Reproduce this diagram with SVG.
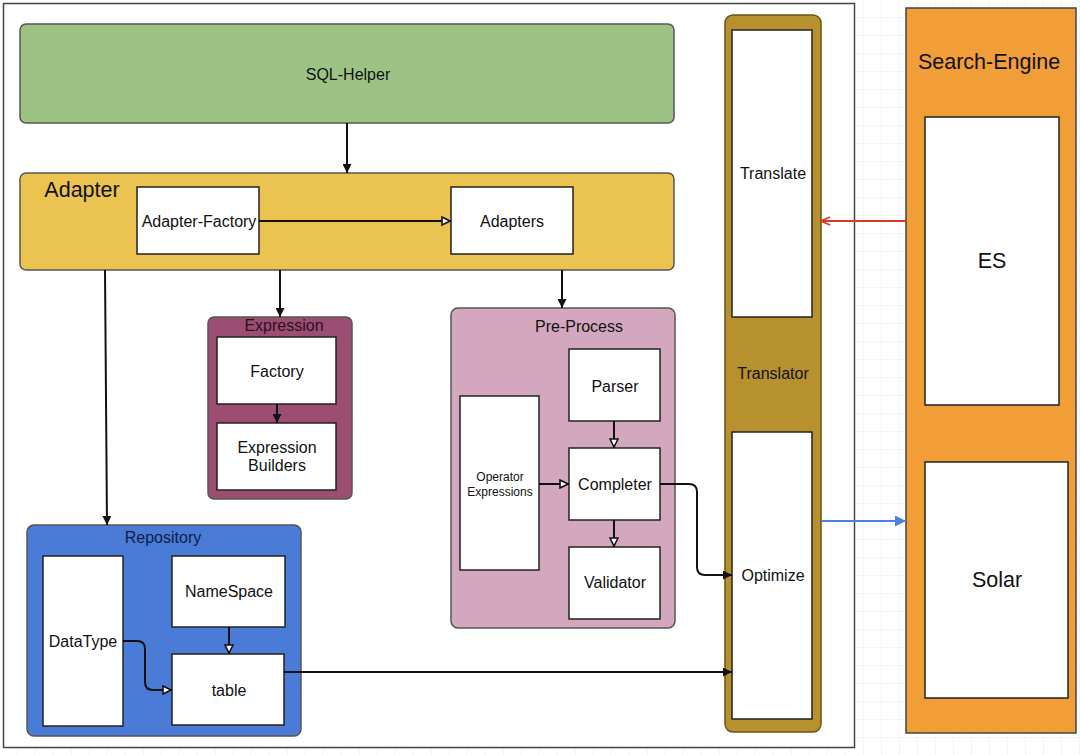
<svg xmlns="http://www.w3.org/2000/svg" width="1080" height="755" viewBox="0 0 1080 755">
<defs>
  <pattern id="grid" x="0" y="0" width="18" height="18" patternUnits="userSpaceOnUse">
    <path d="M18 0 V18 M0 18 H18" fill="none" stroke="#e6eaf4" stroke-width="1"/>
  </pattern>
  <marker id="fill" viewBox="0 0 10 10" refX="10" refY="5" markerWidth="9" markerHeight="9" markerUnits="userSpaceOnUse" orient="auto">
    <path d="M0 0 L10 5 L0 10 Z" fill="#111"/>
  </marker>
  <marker id="open" viewBox="0 0 10 10" refX="10" refY="5" markerWidth="10" markerHeight="10" markerUnits="userSpaceOnUse" orient="auto">
    <path d="M1 1 L9 5 L1 9 Z" fill="#fff" stroke="#111" stroke-width="1.6"/>
  </marker>
  <marker id="red" viewBox="0 0 10 10" refX="10" refY="5" markerWidth="10" markerHeight="10" markerUnits="userSpaceOnUse" orient="auto">
    <path d="M1 1 L10 5 L1 9" fill="none" stroke="#d8392b" stroke-width="1.6"/>
  </marker>
  <marker id="blue" viewBox="0 0 10 10" refX="10" refY="5" markerWidth="11" markerHeight="11" markerUnits="userSpaceOnUse" orient="auto">
    <path d="M0 0 L10 5 L0 10 Z" fill="#4a82dc"/>
  </marker>
</defs>
<style>
  text { font-family: "Liberation Sans", Arial, sans-serif; fill: #111; text-anchor: middle; dominant-baseline: central; }
  .box { fill: #fff; stroke: #222; stroke-width: 1.5; }
  .grp { stroke: #555; stroke-width: 1.5; }
  .t14 { font-size: 16px; }
  .t20 { font-size: 21.5px; }
  .conn { fill: none; stroke: #111; stroke-width: 2; }
</style>
<rect x="0" y="0" width="1080" height="755" fill="#fff"/>
<rect x="855" y="0" width="225" height="755" fill="url(#grid)"/>
<rect x="0" y="748" width="1080" height="7" fill="url(#grid)"/>
<rect id="frame" x="3.5" y="3.5" width="851" height="744" fill="#fff" stroke="#444" stroke-width="1.5"/>

<g id="sql-helper">
  <rect class="grp" x="20" y="24" width="654" height="99" rx="6" fill="#9dc384"/>
  <text class="t14" x="348" y="74">SQL-Helper</text>
</g>

<g id="adapter">
  <rect class="grp" x="20" y="173" width="654" height="97" rx="6" fill="#ebc350"/>
  <text class="t20" x="82" y="190">Adapter</text>
</g>
<g id="adapter-factory">
  <rect class="box" x="137" y="187" width="122" height="67"/>
  <text class="t14" x="199" y="221">Adapter-Factory</text>
</g>
<g id="adapters">
  <rect class="box" x="451" y="187" width="122" height="67"/>
  <text class="t14" x="512" y="221">Adapters</text>
</g>

<g id="expression">
  <rect class="grp" x="208" y="317" width="144" height="182" rx="6" fill="#9c4e72"/>
  <text x="284" y="325" style="font-size:16px;fill:#2a1020">Expression</text>
</g>
<g id="factory">
  <rect class="box" x="217" y="337" width="119" height="67"/>
  <text class="t14" x="277" y="371">Factory</text>
</g>
<g id="expression-builders">
  <rect class="box" x="217" y="423" width="119" height="67"/>
  <text class="t14" x="277" y="447">Expression</text>
  <text class="t14" x="277" y="465">Builders</text>
</g>

<g id="pre-process">
  <rect class="grp" x="451" y="308" width="224" height="320" rx="7" fill="#d3a8be"/>
  <text class="t14" x="579" y="326">Pre-Process</text>
</g>
<g id="parser">
  <rect class="box" x="569" y="349" width="91" height="72"/>
  <text class="t14" x="615" y="386">Parser</text>
</g>
<g id="completer">
  <rect class="box" x="569" y="448" width="91" height="72"/>
  <text class="t14" x="615" y="484">Completer</text>
</g>
<g id="validator">
  <rect class="box" x="569" y="547" width="91" height="72"/>
  <text class="t14" x="615" y="582">Validator</text>
</g>
<g id="operator-expressions">
  <rect class="box" x="460" y="396" width="79" height="174"/>
  <text x="500" y="477" style="font-size:12px">Operator</text>
  <text x="500" y="492" style="font-size:12px">Expressions</text>
</g>

<g id="repository">
  <rect class="grp" x="27" y="525" width="274" height="211" rx="7" fill="#4a7bd6"/>
  <text x="163" y="537" style="font-size:16px;fill:#0d1f45">Repository</text>
</g>
<g id="datatype">
  <rect class="box" x="43" y="556" width="80" height="170"/>
  <text class="t14" x="83" y="641">DataType</text>
</g>
<g id="namespace">
  <rect class="box" x="172" y="556" width="113" height="71"/>
  <text class="t14" x="229" y="591">NameSpace</text>
</g>
<g id="table">
  <rect class="box" x="172" y="654" width="112" height="71"/>
  <text class="t14" x="229" y="690">table</text>
</g>

<g id="translator">
  <rect x="725" y="15" width="96" height="717" rx="8" fill="#b8912f" stroke="#6b5218" stroke-width="1.5"/>
  <text class="t14" x="773" y="373">Translator</text>
</g>
<g id="translate">
  <rect class="box" x="732" y="30" width="80" height="287"/>
  <text class="t14" x="773" y="173">Translate</text>
</g>
<g id="optimize">
  <rect class="box" x="732" y="432" width="80" height="287"/>
  <text class="t14" x="773" y="575">Optimize</text>
</g>

<g id="search-engine">
  <rect x="906" y="8" width="170" height="725" fill="#f19e38" stroke="#444" stroke-width="1.5"/>
  <text class="t20" x="989" y="62">Search-Engine</text>
</g>
<g id="es">
  <rect class="box" x="925" y="117" width="134" height="288"/>
  <text class="t20" x="992" y="261">ES</text>
</g>
<g id="solar">
  <rect class="box" x="925" y="462" width="143" height="236"/>
  <text class="t20" x="997" y="580">Solar</text>
</g>

<g id="connectors">
  <path class="conn" d="M347 123 V173" marker-end="url(#fill)"/>
  <path class="conn" d="M259 221 H451" stroke-width="1.5" marker-end="url(#open)"/>
  <path class="conn" d="M280 270 V317" marker-end="url(#fill)"/>
  <path class="conn" d="M562 270 V308" marker-end="url(#fill)"/>
  <path class="conn" d="M105 270 L107 525" marker-end="url(#fill)"/>
  <path class="conn" d="M277 404 V423" marker-end="url(#fill)"/>
  <path class="conn" d="M614 421 V448" marker-end="url(#open)"/>
  <path class="conn" d="M614 520 V547" marker-end="url(#open)"/>
  <path class="conn" d="M539 484 H569" marker-end="url(#open)"/>
  <path class="conn" d="M660 484 H689 Q697 484 697 492 V567 Q697 575 705 575 H732" marker-end="url(#fill)"/>
  <path class="conn" d="M229 627 V654" marker-end="url(#open)"/>
  <path class="conn" d="M123 641 H137 Q145 641 145 649 V682 Q145 690 153 690 H172" marker-end="url(#open)"/>
  <path class="conn" d="M284 672 H732" marker-end="url(#fill)"/>
  <path d="M906 221 H821" fill="none" stroke="#d8392b" stroke-width="2" marker-end="url(#red)"/>
  <path d="M821 521 H906" fill="none" stroke="#4a82dc" stroke-width="2" marker-end="url(#blue)"/>
</g>
</svg>
